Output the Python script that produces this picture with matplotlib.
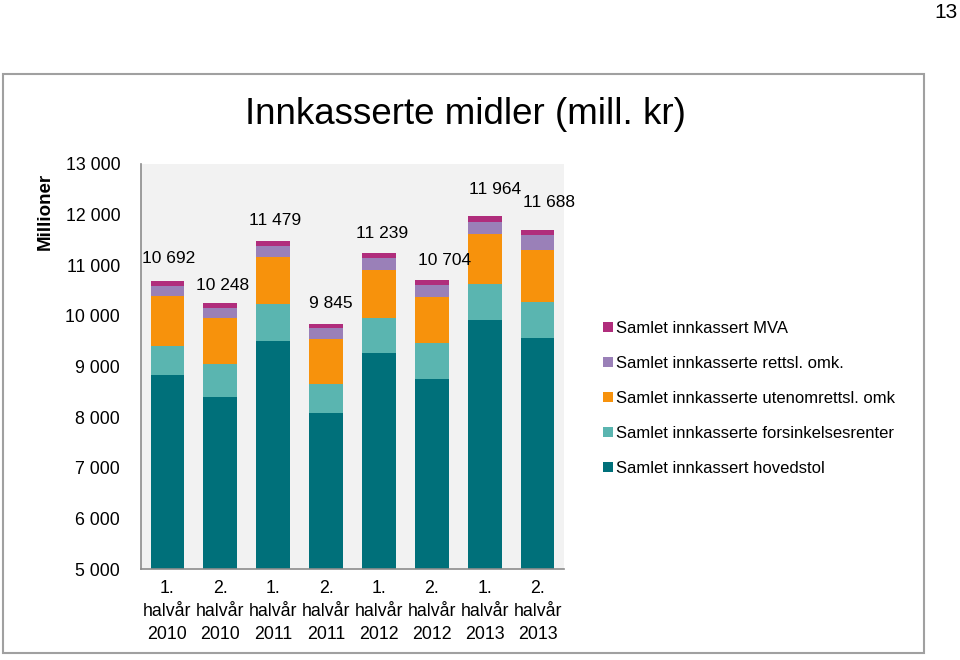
import matplotlib
matplotlib.use("Agg")
import matplotlib.pyplot as plt
from matplotlib.patches import Patch, Rectangle
from matplotlib import font_manager as fm

plt.rcParams['font.family'] = ['Liberation Sans', 'DejaVu Sans']

categories = ["1.\nhalvår\n2010", "2.\nhalvår\n2010", "1.\nhalvår\n2011", "2.\nhalvår\n2011",
              "1.\nhalvår\n2012", "2.\nhalvår\n2012", "1.\nhalvår\n2013", "2.\nhalvår\n2013"]
hovedstol = [8828, 8406, 9507, 8090, 9270, 8755, 9909, 9560]
forsinkelsesrenter = [580, 646, 725, 560, 685, 716, 719, 718]
utenomrettsl = [989, 897, 923, 890, 956, 909, 995, 1029]
rettsl = [184, 197, 217, 211, 231, 221, 237, 290]
mva = [111, 102, 107, 94, 97, 103, 104, 91]
totals = [10692, 10248, 11479, 9845, 11239, 10704, 11964, 11688]
yticks = [5000, 6000, 7000, 8000, 9000, 10000, 11000, 12000, 13000]

series = [
    ("Samlet innkassert hovedstol", hovedstol, "#00707A"),
    ("Samlet innkasserte forsinkelsesrenter", forsinkelsesrenter, "#5AB5B0"),
    ("Samlet innkasserte utenomrettsl. omk", utenomrettsl, "#F7920C"),
    ("Samlet innkasserte rettsl. omk.", rettsl, "#9A80B8"),
    ("Samlet innkassert MVA", mva, "#B02D7C"),
]

# label offsets in pixels (dx, dy above bar top)
label_offsets = [(1, 22), (2, 18), (2, 21), (5, 20), (3, 20), (13, 20), (10, 27), (11, 28)]

fig = plt.figure(figsize=(9.6, 6.6), dpi=100)
ax = fig.add_axes([141/960, 91/660, 423/960, 405/660])
ax.set_facecolor("#F2F2F2")

x = list(range(len(categories)))
bottom = [0]*len(categories)
handles = []
for name, vals, col in series:
    ax.bar(x, vals, bottom=bottom, width=0.64, color=col, edgecolor='none', zorder=2)
    bottom = [b + v for b, v in zip(bottom, vals)]
    handles.append(Patch(facecolor=col, edgecolor='none', label=name))

for i, t in enumerate(totals):
    dx, dy = label_offsets[i]
    ax.annotate(f"{t:,}".replace(",", " "), (i, bottom[i]), xytext=(dx, dy),
                textcoords='offset pixels', ha='center', va='center', fontsize=12.5, color='#000000')

ax.set_xlim(-0.5, 7.5)
ax.set_ylim(5000, 13000)
ax.set_yticks(yticks)
ax.set_yticklabels([f"{v:,}".replace(",", " ") for v in yticks], fontsize=12.8)
ax.set_xticks(x)
ax.set_xticklabels(categories, fontsize=12.8, linespacing=1.45)
ax.tick_params(axis='y', length=0, pad=15)
ax.tick_params(axis='x', length=0, pad=8)
for s in ['top', 'right']:
    ax.spines[s].set_visible(False)
for s in ['left', 'bottom']:
    ax.spines[s].set_color('#8C8C8C')
    ax.spines[s].set_linewidth(1.2)

leg = fig.legend(handles=handles[::-1], loc='upper left', bbox_to_anchor=(596/960, 1 - 314/660),
                 frameon=False, fontsize=12, handlelength=0.6, handleheight=0.6,
                 handletextpad=0.2, labelspacing=1.2, borderaxespad=0)

names = {f.name for f in fm.fontManager.ttflist}
if 'Liberation Sans Narrow' in names:
    fig.text(465/960, 1 - 115/660, "Innkasserte midler (mill. kr)", ha='center', va='center',
             fontsize=29, family=['Liberation Sans Narrow', 'Liberation Sans'])
else:
    fig.text(465/960, 1 - 115/660, "Innkasserte midler (mill. kr)", ha='center', va='center',
             fontsize=26.5)

fig.text(45/960, 1 - 211/660, "Millioner", rotation=90, ha='center', va='center',
         fontsize=13.5, fontweight='bold')
fig.text(958/960, 1 - 13/660, "13", ha='right', va='center', fontsize=15)

fig.add_artist(Rectangle((3/960, 7/660), 921/960, 579/660, transform=fig.transFigure,
                         fill=False, edgecolor='#A0A0A0', linewidth=1.5))

fig.savefig("out.png", dpi=100)
